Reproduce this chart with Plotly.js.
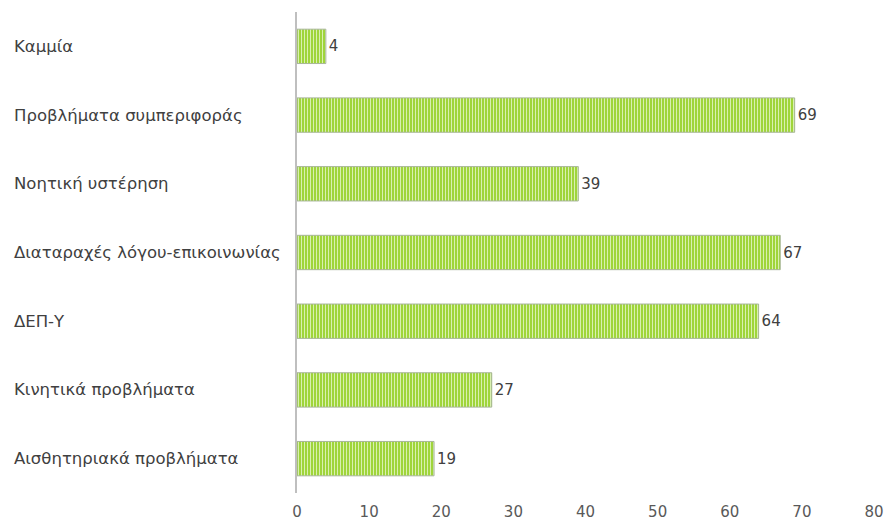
<!DOCTYPE html>
<html>
<head>
<meta charset="utf-8">
<script src="https://cdn.plot.ly/plotly-3.0.1.min.js"></script>
<style>html,body{margin:0;padding:0;background:#fff}#chart{width:887px;height:520px}</style>
</head>
<body>
<div id="chart"></div>
<script>
const categories = [
  "Καμμία",
  "Προβλήματα συμπεριφοράς",
  "Νοητική υστέρηση",
  "Διαταραχές λόγου-επικοινωνίας",
  "ΔΕΠ-Υ",
  "Κινητικά προβλήματα",
  "Αισθητηριακά προβλήματα"
];
const values = [4, 69, 39, 67, 64, 27, 19];
const xTicks = [0, 10, 20, 30, 40, 50, 60, 70, 80];

const FONT = "DejaVu Sans, Open Sans, sans-serif";
const marginL = 297, marginR = 13, plotW = 887 - marginL - marginR;

const trace = {
  type: "bar",
  orientation: "h",
  y: categories,
  x: values,
  text: values.map(String),
  textposition: "outside",
  cliponaxis: false,
  textfont: {family: FONT, size: 15, color: "#404040"},
  marker: {
    color: "#9fd53a",
    line: {color: "#a8b59a", width: 1},
    pattern: {shape: "|", fgcolor: "#d9f0b0", bgcolor: "#9fd53a", size: 3, solidity: 0.35}
  },
  hoverinfo: "skip"
};

const annotations = categories.map(c => ({
  text: c, xref: "paper", yref: "y", x: -(marginL - 12) / plotW, y: c,
  xanchor: "left", yanchor: "middle", showarrow: false,
  font: {family: FONT, size: 16.5, color: "#404040"}
}));

const layout = {
  width: 887, height: 520,
  margin: {l: marginL, r: marginR, t: 12, b: 27},
  paper_bgcolor: "#fff", plot_bgcolor: "#fff",
  bargap: 0.5,
  showlegend: false,
  font: {family: FONT, size: 15, color: "#404040"},
  xaxis: {
    range: [0, 80], tickvals: xTicks, ticktext: xTicks.map(String),
    showgrid: false, zeroline: false, showline: false, ticks: "",
    ticklabelstandoff: 8,
    tickfont: {family: FONT, size: 15, color: "#595959"}
  },
  yaxis: {
    autorange: "reversed", showticklabels: false, showgrid: false, zeroline: false,
    showline: true, linecolor: "#bfbfbf", linewidth: 2, ticks: ""
  },
  annotations: annotations
};

Plotly.newPlot("chart", [trace], layout, {staticPlot: true, displayModeBar: false});
</script>
</body>
</html>
